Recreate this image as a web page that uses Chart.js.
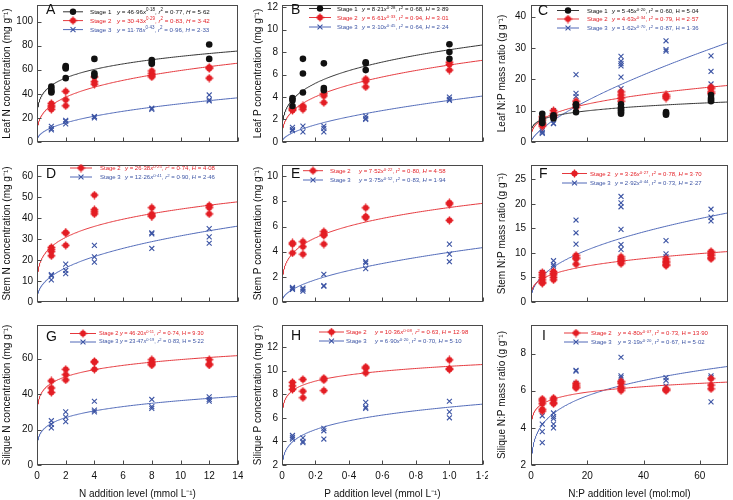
<!DOCTYPE html>
<html><head><meta charset="utf-8">
<script src="https://cdn.jsdelivr.net/npm/chart.js@4.4.0/dist/chart.umd.min.js"></script>
<style>
html,body{margin:0;padding:0;background:#fff;}
#wrap{position:relative;width:733px;height:500px;overflow:hidden;font-family:'Liberation Sans',Arial,sans-serif;}
canvas{position:absolute;}
.lg{position:absolute;white-space:nowrap;font-size:6px;line-height:1;transform:translateY(-50%);}
.lg sup{font-size:0.72em;vertical-align:0.55em;line-height:0;}
.lt{position:absolute;font-size:14px;line-height:1;transform:translateY(-50%);color:#111;}
</style></head><body><div id="wrap"></div>
<script>
// ---------- categories (x levels) ----------
const nLevels  = [1, 2, 4, 8, 12];
const pLevels  = [0.0625, 0.125, 0.25, 0.5, 1.0];
const npLevels = [4, 8, 16, 32, 48, 64];

// ---------- tick labels ----------
const nAxisTicks  = [0, 2, 4, 6, 8, 10, 12, 14];
const pAxisTicks  = [0, 0.2, 0.4, 0.6, 0.8, 1.0, 1.2];
const npAxisTicks = [0, 20, 40, 60];
const leafNTicks  = [0, 20, 40, 60, 80, 100];
const leafPTicks  = [0, 2, 4, 6, 8, 10, 12];
const leafNPTicks = [0, 10, 20, 30, 40];
const stemNTicks  = [0, 10, 20, 30, 40, 50, 60];
const stemPTicks  = [0, 2, 4, 6, 8, 10];
const stemNPTicks = [0, 5, 10, 15, 20, 25];
const silNTicks   = [0, 20, 40, 60];
const silPTicks   = [2, 4, 6, 8, 10, 12];
const silNPTicks  = [2, 4, 6, 8];

// ---------- series values (one inner list per x level) ----------
const leafN_s1 = [[46,44,42,41],[63,62,61,53],[69,57,55],[68,66,65],[81,69]];
const leafN_s2 = [[32,30,29,27],[42,35,30],[54,50,48],[59,57,55,54],[62,61,53]];
const leafN_s3 = [[13,11,10],[18,17,15],[21,21,20],[28,27],[39,35,34]];

const leafP_s1 = [[3.9,3.7,3.2],[7.4,6.1,4.4],[7.0,4.8,4.6],[7.1,7.0,6.4],[8.7,8.0,7.4]];
const leafP_s2 = [[3.0,2.9,2.8],[3.2,3.1,2.9],[4.3,4.1,3.5],[5.6,5.4,4.9],[7.1,6.9,6.4]];
const leafP_s3 = [[1.3,1.1,1.0],[1.4,0.9],[1.4,1.2,0.9],[2.3,2.1,2.0],[4.0,3.8,3.7]];

const leafNP_s1 = [[9.0,7.5,6.5,6.0],[8.5,8.0,7.5],[12,11.5,9.5],[12,11,10.5,10,9.5,9],[9.5,9,8.7],[15,14,13.5,13]];
const leafNP_s2 = [[8,7,6,5.5,5],[10,9,8.5,8],[13,12,11],[16,15,14,13],[15,14.5,14],[17.5,17,16,15.5]];
const leafNP_s3 = [[3.5,3,2.7],[10,9,6,5.8],[21.5,15.5,14.5],[27.3,25.8,25,24.3,20.7,17],[32.3,29.5,29],[27.5,22.5,18.5]];

const stemN_s2 = [[26,25,24,22],[33,33,27],[51,44,43,42],[45,42,41,41],[46,45,42]];
const stemN_s3 = [[13,12.5,10.5],[18,15,13.5],[27,21.5,19],[33,32.5,25.5],[35,31,28]];

const stemP_s2 = [[4.7,4.6,3.9],[4.8,4.4,3.8],[5.6,5.4,5.3,4.6],[7.5,6.8,6.7],[7.9,7.8,6.5]];
const stemP_s3 = [[1.15,1.05,1.0],[1.1,1.0,0.85],[2.2,1.3,1.25],[3.2,3.1,2.65],[4.6,3.8,3.2]];

const stemNP_s2 = [[6,5.5,5,4.5,4,3.8],[6.2,5.8,5.5,5,4.5],[9.5,9,8.8,7.7],[9.2,8.8,8.5,8.2,7.8],[8.8,8.3,8,7.6,7.4],[10.3,9.8,9.5,9,8.8]];
const stemNP_s3 = [[6,5.5,5,4.5],[8.4,7.6,7.3],[16.7,14.1,11.8],[21.5,20.2,19.4,14.8,11.7,10.7],[12.5,9.8,9.2],[18.9,17.3,16.5]];

const silN_s2 = [[47.5,43.5,41],[54,51,48],[58.5,58,54],[59.5,58,57,56.5],[59.5,57,56.5]];
const silN_s3 = [[25,23,21],[30,27,24.5],[36,31,30],[37,33,32],[38.5,37,36]];

const silP_s2 = [[9.0,8.7,8.4],[9.25,8.25,7.7],[9.35,9.2,8.3],[10.3,10.2,9.8],[10.9,10.15,10.1]];
const silP_s3 = [[4.5,4.35,4.2],[4.3,4.0,3.9],[5.1,4.9,4.2],[7.3,6.9,6.8],[7.4,6.5,6.0]];

const silNP_s2 = [[5.55,5.45,5.3,5.0,4.9],[5.6,5.5,5.35,5.3],[6.4,6.3,6.2,6.15],[6.5,6.4,6.2,6.1,6.0],[6.1,6.05,6.0],[6.65,6.3,6.1]];
const silNP_s3 = [[4.65,4.2,3.8,3.2],[4.8,4.6,4.5,4.2,4.0],[7.1,7.05,6.4],[7.8,6.8,6.7,6.3],[6.7,6.55,6.25],[6.8,6.7,5.4]];

// ---------- fitted power curves y = a*x^b (as drawn) ----------
const leafN_fit  = [[46.96,0.18],[30.43,0.29],[11.78,0.43]];
const leafP_fit  = [[8.21,0.28],[6.85,0.33],[3.7,0.55]];
const leafNP_fit = [[5.45,0.20],[4.63,0.32],[1.62,0.70]];
const stemN_fit  = [[26.38,0.225],[12.26,0.41]];
const stemP_fit  = [[7.52,0.24],[3.95,0.5]];
const stemNP_fit = [[3.26,0.27],[2.92,0.43]];
const silN_fit   = [[46.20,0.11],[23.47,0.19]];
const silP_fit   = [[10.36,0.08],[6.90,0.20]];
const silNP_fit  = [[4.80,0.07],[3.19,0.195]];

// ---------- legend equations [a, b, r2, H] ----------
const leafN_eq  = [['46·96','0·18','0·77','5·62'],['30·43','0·29','0·83','3·42'],['11·78','0·43','0·96','2·33']];
const leafP_eq  = [['8·21','0·28','0·68','3·89'],['6·61','0·33','0·94','3·01'],['3·10','0·45','0·64','2·24']];
const leafNP_eq = [['5·45','0·20','0·60','5·04'],['4·63','0·34','0·79','2·57'],['1·62','0·70','0·87','1·36']];
const stemN_eq  = [['26·38','0·25','0·74','4·08'],['12·26','0·41','0·90','2·46']];
const stemP_eq  = [['7·52','0·22','0·80','4·58'],['3·75','0·52','0·83','1·94']];
const stemNP_eq = [['3·26','0·27','0·78','3·70'],['2·92','0·44','0·73','2·27']];
const silN_eq   = [['46·20','0·11','0·74','9·30'],['23·47','0·19','0·83','5·22']];
const silP_eq   = [['10·36','0·08','0·63','12·98'],['6·90','0·20','0·70','5·10']];
const silNP_eq  = [['4·80','0·07','0·73','13·90'],['3·19','0·20','0·67','5·02']];

// ---------- styling / layout ----------
const FONT = "'Liberation Sans', Arial, sans-serif";
const COL = {1:'#111111', 2:'#e31e24', 3:'#3c54a4'};
const LINECOL = {1:'#333333', 2:'#e5383d', 3:'#5069b8'};
const cols = [
  {left:0,   width:243, yW:37, padR:4, titlePad:1, tickPad:4},
  {left:250, width:238, yW:32, padR:4, titlePad:2, tickPad:4},
  {left:494, width:239, yW:37, padR:1, titlePad:2, tickPad:5}
];
const rows = [
  {top:0,   height:147, xH:2,  padT:2, showX:false},
  {top:160, height:147, xH:2,  padT:2, showX:false},
  {top:320, height:180, xH:35, padT:2, showX:true}
];
const xKinds = {
  N:  {levels:nLevels,  ticks:nAxisTicks,  max:14,  title:'N addition level (mmol L⁻¹)', fmt:v=>String(v)},
  P:  {levels:pLevels,  ticks:pAxisTicks,  max:1.2, title:'P addition level (mmol L⁻¹)', fmt:v=> v===0?'0':v.toFixed(1).replace('.','·')},
  NP: {levels:npLevels, ticks:npAxisTicks, max:70,  title:'N:P addition level (mol:mol)', fmt:v=>String(v)}
};

const panels = [
 {letter:'A', row:0,col:0, x:'N',  yTitle:'Leaf N concentration (mg g⁻¹)', yMin:0,yMax:113.7, yTicks:leafNTicks, hItal:true,
  stages:[1,2,3], vals:[leafN_s1,leafN_s2,leafN_s3], fits:leafN_fit, eqs:leafN_eq,
  lg:{lx:[63,83], sx:90, ex:117, ys:[11.8,20.6,29.6], fs:6.2}, lt:[46,9]},
 {letter:'B', row:0,col:1, x:'P',  yTitle:'Leaf P concentration (mg g⁻¹)', yMin:0,yMax:12.19, yTicks:leafPTicks, hItal:true,
  stages:[1,2,3], vals:[leafP_s1,leafP_s2,leafP_s3], fits:leafP_fit, eqs:leafP_eq,
  lg:{lx:[309,331], sx:337, ex:362, ys:[8.5,17.5,27], fs:6}, lt:[291,9]},
 {letter:'C', row:0,col:2, x:'NP', yTitle:'Leaf N:P mass ratio (g g⁻¹)', yMin:0,yMax:43.7, yTicks:leafNPTicks, hItal:false,
  stages:[1,2,3], vals:[leafNP_s1,leafNP_s2,leafNP_s3], fits:leafNP_fit, eqs:leafNP_eq,
  lg:{lx:[557,579], sx:587, ex:612, ys:[10.5,19,28], fs:6}, lt:[538,10]},
 {letter:'D', row:1,col:0, x:'N',  yTitle:'Stem N concentration (mg g⁻¹)', yMin:0,yMax:65.3, yTicks:stemNTicks, hItal:true,
  stages:[2,3], vals:[stemN_s2,stemN_s3], fits:stemN_fit, eqs:stemN_eq,
  lg:{lx:[70,92], sx:100, ex:125, ys:[168,177], fs:6}, lt:[46,173]},
 {letter:'E', row:1,col:1, x:'P',  yTitle:'Stem P concentration (mg g⁻¹)', yMin:0,yMax:10.9, yTicks:stemPTicks, hItal:true,
  stages:[2,3], vals:[stemP_s2,stemP_s3], fits:stemP_fit, eqs:stemP_eq,
  lg:{lx:[303,323], sx:330, ex:359, ys:[170.7,180], fs:6}, lt:[291,173]},
 {letter:'F', row:1,col:2, x:'NP', yTitle:'Stem N:P mass ratio (g g⁻¹)', yMin:0,yMax:27.9, yTicks:stemNPTicks, hItal:true,
  stages:[2,3], vals:[stemNP_s2,stemNP_s3], fits:stemNP_fit, eqs:stemNP_eq,
  lg:{lx:[562,587], sx:590, ex:615, ys:[173.5,183], fs:6}, lt:[539,173]},
 {letter:'G', row:2,col:0, x:'N',  yTitle:'Silique N concentration (mg g⁻¹)', yMin:0,yMax:79, yTicks:silNTicks, hItal:false,
  stages:[2,3], vals:[silN_s2,silN_s3], fits:silN_fit, eqs:silN_eq,
  lg:{lx:[70,96], sx:99, ex:120, ys:[333.5,342], fs:5.6}, lt:[46,336]},
 {letter:'H', row:2,col:1, x:'P',  yTitle:'Silique P concentration (mg g⁻¹)', yMin:2,yMax:13.85, yTicks:silPTicks, hItal:true,
  stages:[2,3], vals:[silP_s2,silP_s3], fits:silP_fit, eqs:silP_eq,
  lg:{lx:[319,344], sx:346, ex:375, ys:[332,341], fs:6}, lt:[291,335]},
 {letter:'I', row:2,col:2, x:'NP', yTitle:'Silique N:P mass ratio (g g⁻¹)', yMin:2,yMax:9.53, yTicks:silNPTicks, hItal:false,
  stages:[2,3], vals:[silNP_s2,silNP_s3], fits:silNP_fit, eqs:silNP_eq,
  lg:{lx:[564,588], sx:591, ex:618, ys:[333,342], fs:6}, lt:[542,335]}
];

// red marker (filled circle with cross)
function makeRedMarker(){
  const c=document.createElement('canvas'); c.width=9; c.height=9;
  const g=c.getContext('2d'); g.fillStyle=COL[2]; g.strokeStyle=COL[2];
  g.beginPath(); g.arc(4.5,4.5,3.0,0,Math.PI*2); g.fill();
  g.lineWidth=1.3; g.beginPath(); g.moveTo(4.5,0.6); g.lineTo(4.5,8.4); g.moveTo(0.6,4.5); g.lineTo(8.4,4.5); g.stroke();
  return c;
}
const redMarker = makeRedMarker();
const markerStyle = {
  1:{pointStyle:'circle', pointRadius:3.3, pointBackgroundColor:COL[1], pointBorderColor:COL[1], pointBorderWidth:0},
  2:{pointStyle:redMarker, pointRadius:4, pointBackgroundColor:COL[2], pointBorderColor:COL[2], pointBorderWidth:0},
  3:{pointStyle:'crossRot', pointRadius:3.5, pointBackgroundColor:COL[3], pointBorderColor:COL[3], pointBorderWidth:1.1}
};
function drawMarker(ctx, stage, x, y){
  ctx.save();
  if(stage===1){ ctx.fillStyle=COL[1]; ctx.beginPath(); ctx.arc(x,y,3.2,0,Math.PI*2); ctx.fill(); }
  else if(stage===2){ ctx.drawImage(redMarker, x-4.5, y-4.5); }
  else { ctx.strokeStyle=COL[3]; ctx.lineWidth=1.1; const r=3.5*0.7071;
    ctx.beginPath(); ctx.moveTo(x-r,y-r); ctx.lineTo(x+r,y+r); ctx.moveTo(x-r,y+r); ctx.lineTo(x+r,y-r); ctx.stroke(); }
  ctx.restore();
}

const framePlugin = {
  id:'frame',
  afterDatasetsDraw(chart){
    const {ctx, chartArea:a, scales} = chart;
    const p = chart.options.plugins.frame;
    ctx.save();
    ctx.strokeStyle='#4a4a4a'; ctx.lineWidth=1;
    const L=Math.round(a.left)+0.5, R=Math.round(a.right)-0.5, T=Math.round(a.top)+0.5, B=Math.round(a.bottom)-0.5;
    ctx.strokeRect(L, T, R-L, B-T);
    ctx.beginPath();
    scales.x.ticks.forEach(t=>{ const px=Math.round(scales.x.getPixelForValue(t.value))+0.5; ctx.moveTo(px,B); ctx.lineTo(px,B-4); });
    scales.y.ticks.forEach(t=>{ const py=Math.round(scales.y.getPixelForValue(t.value))+0.5; ctx.moveTo(L,py); ctx.lineTo(L+4,py); });
    ctx.stroke();
    // legend samples
    const lg = p.lg, ox = p.ox, oy = p.oy;
    p.stages.forEach((s,i)=>{
      const y = lg.ys[i]-oy;
      ctx.strokeStyle = LINECOL[s]; ctx.lineWidth=1;
      ctx.beginPath(); ctx.moveTo(lg.lx[0]-ox, y); ctx.lineTo(lg.lx[1]-ox, y); ctx.stroke();
      drawMarker(ctx, s, (lg.lx[0]+lg.lx[1])/2-ox, y);
    });
    ctx.restore();
  }
};

function zeroPad(s){ s.paddingTop=0; s.paddingBottom=0; s.paddingLeft=0; s.paddingRight=0; }

const wrap = document.getElementById('wrap');
panels.forEach(pn=>{
  const c = cols[pn.col], r = rows[pn.row], xk = xKinds[pn.x];
  const cv = document.createElement('canvas');
  cv.width = c.width; cv.height = r.height;
  cv.style.left = c.left+'px'; cv.style.top = r.top+'px';
  wrap.appendChild(cv);

  const datasets = [];
  pn.stages.forEach((s,i)=>{
    const pts = [];
    xk.levels.forEach((xv,j)=> pn.vals[i][j].forEach(v=>pts.push({x:xv, y:v})));
    datasets.push(Object.assign({type:'scatter', data:pts, showLine:false, order:0}, markerStyle[s]));
  });
  pn.stages.forEach((s,i)=>{
    const [a,b] = pn.fits[i];
    const N = 240, pts = [];
    for(let k=0;k<=N;k++){ const xv = xk.max*Math.pow(k/N,3); pts.push({x:xv, y:a*Math.pow(xv,b)}); }
    datasets.push({type:'line', data:pts, borderColor:LINECOL[s], borderWidth:1, pointRadius:0, tension:0, order:1});
  });

  new Chart(cv, {
    data:{datasets},
    options:{
      responsive:false, animation:false, maintainAspectRatio:false,
      layout:{padding:{top:r.padT, right:c.padR, left:0, bottom:0}},
      plugins:{legend:{display:false}, tooltip:{enabled:false},
        frame:{lg:pn.lg, ox:c.left, oy:r.top, stages:pn.stages}},
      scales:{
        x:{type:'linear', position:'bottom', min:0, max:xk.max,
           grid:{display:false, drawTicks:false}, border:{display:false},
           afterBuildTicks:s=>{ s.ticks = xk.ticks.map(v=>({value:v})); },
           afterFit:s=>{ s.height = r.xH; zeroPad(s); },
           ticks:{display:r.showX, padding:5, color:'#111', font:{size:10, family:FONT}, maxRotation:0, autoSkip:false, callback:v=>xk.fmt(v)},
           title:{display:r.showX, text:xk.title, color:'#111', font:{size:10, family:FONT}, padding:{top:0,bottom:0}}},
        y:{type:'linear', position:'left', min:pn.yMin, max:pn.yMax,
           grid:{display:false, drawTicks:false}, border:{display:false},
           afterBuildTicks:s=>{ s.ticks = pn.yTicks.map(v=>({value:v})); },
           afterFit:s=>{ s.width = c.yW; zeroPad(s); },
           ticks:{padding:c.tickPad, color:'#111', font:{size:10, family:FONT}, autoSkip:false, callback:v=>String(v)},
           title:{display:true, text:pn.yTitle, color:'#111', font:{size:10, family:FONT}, padding:{top:c.titlePad,bottom:0}}}
      }
    },
    plugins:[framePlugin]
  });

  // panel letter
  const lt = document.createElement('div');
  lt.className='lt'; lt.textContent = pn.letter;
  lt.style.left = pn.lt[0]+'px'; lt.style.top = pn.lt[1]+'px';
  wrap.appendChild(lt);
  // legend texts
  pn.stages.forEach((s,i)=>{
    const [a,b,r2,h] = pn.eqs[i];
    const y = pn.lg.ys[i];
    const st = document.createElement('div');
    st.className='lg'; st.style.color = COL[s]; st.style.left = pn.lg.sx+'px'; st.style.top = y+'px';
    st.style.fontSize = pn.lg.fs+'px';
    st.textContent = 'Stage ' + s;
    wrap.appendChild(st);
    const eq = document.createElement('div');
    eq.className='lg'; eq.style.color = COL[s]; eq.style.left = pn.lg.ex+'px'; eq.style.top = y+'px';
    eq.style.fontSize = pn.lg.fs+'px';
    eq.innerHTML = `<i>y</i> = ${a}<i>x</i><sup>${b}</sup>, <i>r</i><sup>2</sup> = ${r2}, ${pn.hItal?'<i>H</i>':'H'} = ${h}`;
    wrap.appendChild(eq);
  });
});
</script>
</body></html>
